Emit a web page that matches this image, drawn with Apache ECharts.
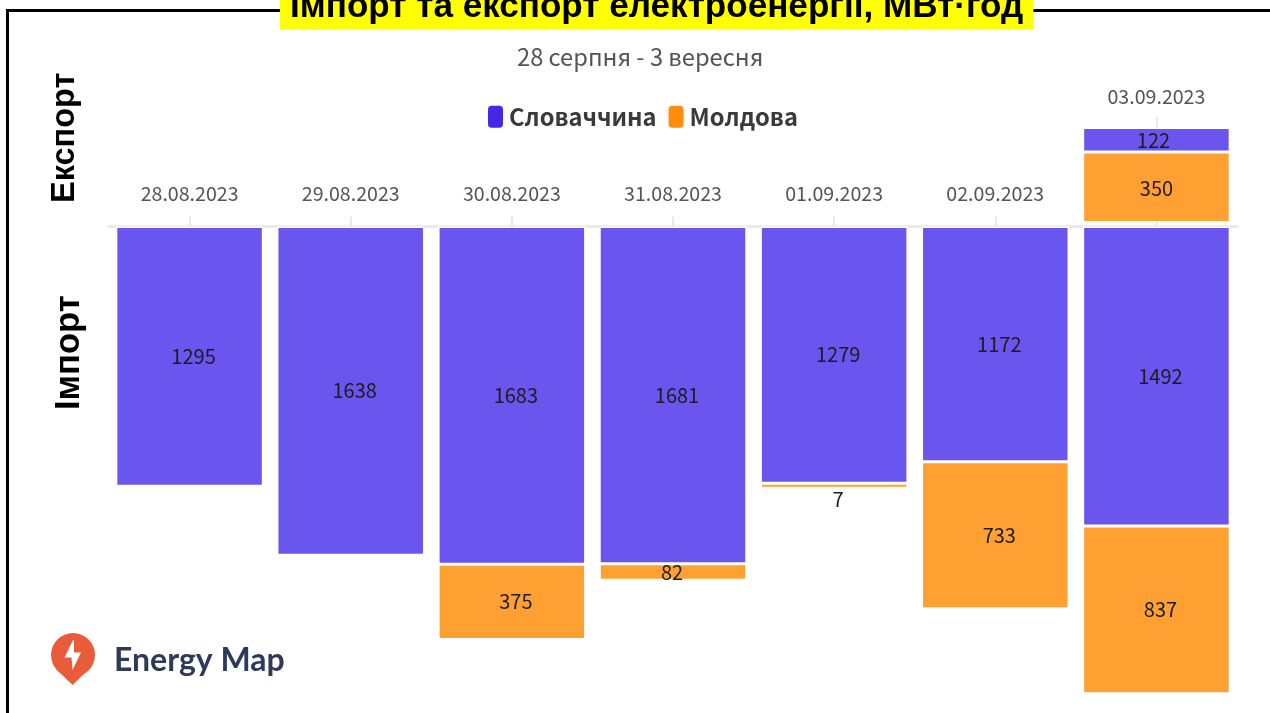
<!DOCTYPE html>
<html>
<head>
<meta charset="utf-8">
<title>Імпорт та експорт електроенергії</title>
<style>
html, body { margin: 0; padding: 0; background: #fff; }
#chart { width: 1270px; height: 713px; }
</style>
<script src="https://cdn.jsdelivr.net/npm/echarts@6/dist/echarts.min.js"></script>
</head>
<body>
<div id="chart"></div>
<script>
var dates = ['28.08.2023', '29.08.2023', '30.08.2023', '31.08.2023', '01.09.2023', '02.09.2023', '03.09.2023'];

// МВт·год, imports are drawn below the axis
var importSlovakia = [1295, 1638, 1683, 1681, 1279, 1172, 1492];
var importMoldova = [null, null, 375, 82, 7, 733, 837];
var exportMoldova = [null, null, null, null, null, null, 350];
var exportSlovakia = [null, null, null, null, null, null, 122];

var seriesNames = ['Словаччина', 'Молдова'];
var titleText = 'Імпорт та експорт електроенергії, МВт·год';
var subtitleText = '28 серпня - 3 вересня';

var cjk = '"Noto Sans CJK SC", "Noto Sans", sans-serif';
var purple = '#6a55ee';
var orange = '#ffa033';

function negative(values) {
	return values.map(function (v) {
		return v == null ? null : -v;
	});
}

function barSeries(name, color, values, labelOffset, axisIndex) {
	return {
		name: name,
		type: 'bar',
		stack: 'total',
		xAxisIndex: axisIndex,
		yAxisIndex: axisIndex,
		barWidth: 147.5,
		barMinHeight: 5,
		itemStyle: { color: color, borderColor: '#fff', borderWidth: 1.5 },
		label: {
			show: true,
			position: 'inside',
			offset: labelOffset,
			color: '#1c1c1c',
			fontFamily: cjk,
			fontSize: 20,
			formatter: function (p) {
				return Math.abs(p.value);
			}
		},
		data: values
	};
}

var importMoldovaItems = negative(importMoldova).map(function (v) {
	if (v === -7) {
		return { value: v, label: { position: 'bottom', distance: 1, offset: [4, 0] } };
	}
	if (v === -82) {
		return { value: v, label: { offset: [-1, 0] } };
	}
	return v;
});

var exportTop = barSeries(seriesNames[0], purple, exportSlovakia, [-3, 1], 1);
exportTop.markLine = {
	silent: true,
	symbol: 'none',
	label: { show: false },
	lineStyle: { color: '#e8e8e8', width: 2, type: 'solid' },
	data: [[
		{ xAxis: dates[6], yAxis: 472 },
		{ xAxis: dates[6], yAxis: 522 }
	]]
};

var axisData = dates.map(function (d, i) {
	// the last date sits above its export bar
	return i === 6 ? { value: d, textStyle: { padding: [0, 0, 97, 0] } } : d;
});

var option = {
	animation: false,
	backgroundColor: '#fff',
	title: [
		{
			text: titleText,
			left: 280,
			top: -13,
			padding: [3, 10, 4, 10],
			backgroundColor: '#ffff00',
			z: 10,
			textStyle: { fontFamily: '"Liberation Sans", Arial, sans-serif', fontSize: 35.1, fontWeight: 'bold', color: '#000' }
		},
		{
			text: subtitleText,
			left: 517,
			top: 45,
			padding: 0,
			textStyle: { fontFamily: cjk, fontSize: 23.7, fontWeight: 'normal', color: '#555' }
		}
	],
	legend: {
		left: 483,
		top: 100,
		itemWidth: 15,
		itemHeight: 22,
		itemGap: 12,
		icon: 'roundRect',
		selectedMode: false,
		textStyle: { fontFamily: cjk, fontSize: 23.7, fontWeight: 'bold', color: '#3a3a3a', padding: [0, 0, 0, 1] },
		data: [
			{ name: seriesNames[0], itemStyle: { color: '#4428e6', borderWidth: 0 } },
			{ name: seriesNames[1], itemStyle: { color: '#ff8c0a', borderWidth: 0 } }
		]
	},
	// imports hang below the date axis, exports stand just above it
	grid: [
		{ left: 109, right: 33, top: 226.5, bottom: 4.9, outerBoundsMode: 'none' },
		{ left: 109, right: 33, top: 101.6, height: 120.9, outerBoundsMode: 'none' }
	],
	xAxis: [
		{
			type: 'category',
			gridIndex: 0,
			position: 'top',
			offset: 2,
			data: axisData,
			axisLine: { lineStyle: { color: '#eaeaea', width: 3 } },
			axisTick: { show: true, alignWithLabel: true, length: 10, lineStyle: { color: '#e8e8e8', width: 2 } },
			axisLabel: { interval: 0, margin: 21, color: '#555', fontFamily: cjk, fontSize: 19.6 }
		},
		{ type: 'category', gridIndex: 1, show: false, data: dates }
	],
	yAxis: [
		{ type: 'value', gridIndex: 0, min: -2400, max: 0, show: false },
		{ type: 'value', gridIndex: 1, min: 0, max: 600, show: false }
	],
	series: [
		barSeries(seriesNames[0], purple, negative(importSlovakia), [4, 0], 0),
		barSeries(seriesNames[1], orange, importMoldovaItems, [4, 0], 0),
		barSeries(seriesNames[1], orange, exportMoldova, [0, 1], 1),
		exportTop
	],
	graphic: [
		{ type: 'line', z: 1, shape: { x1: 7.5, y1: 10.5, x2: 7.5, y2: 713 }, style: { stroke: '#000', lineWidth: 3 } },
		{ type: 'line', z: 1, shape: { x1: 6, y1: 10.5, x2: 1270, y2: 10.5 }, style: { stroke: '#000', lineWidth: 3 } },
		{
			type: 'text', x: 49, y: 203, rotation: Math.PI / 2,
			style: { text: 'Експорт', fontFamily: '"Liberation Sans", sans-serif', fontSize: 32.5, fontWeight: 'bold', fill: '#000' }
		},
		{
			type: 'text', x: 52, y: 410, rotation: Math.PI / 2,
			style: { text: 'Імпорт', fontFamily: '"Liberation Sans", sans-serif', fontSize: 34.5, fontWeight: 'bold', fill: '#000' }
		},
		{ type: 'circle', shape: { cx: 73, cy: 655, r: 22 }, style: { fill: '#e95c3a' } },
		{ type: 'polygon', shape: { points: [[72.5, 685], [56, 669], [89, 669]] }, style: { fill: '#e95c3a' } },
		{
			type: 'polygon',
			shape: { points: [[73, 640], [64.5, 657.5], [71.5, 657.5], [72.5, 670], [81, 652.5], [74, 652.5], [74, 640]] },
			style: { fill: '#fff' }
		},
		{
			type: 'text', x: 114, y: 645,
			style: { text: 'Energy Map', fontFamily: 'Lato, "Open Sans", sans-serif', fontSize: 32, fontWeight: 'bold', fill: '#2f3a5a' }
		}
	]
};

var myChart = echarts.init(document.getElementById('chart'));
myChart.setOption(option);
</script>
</body>
</html>
